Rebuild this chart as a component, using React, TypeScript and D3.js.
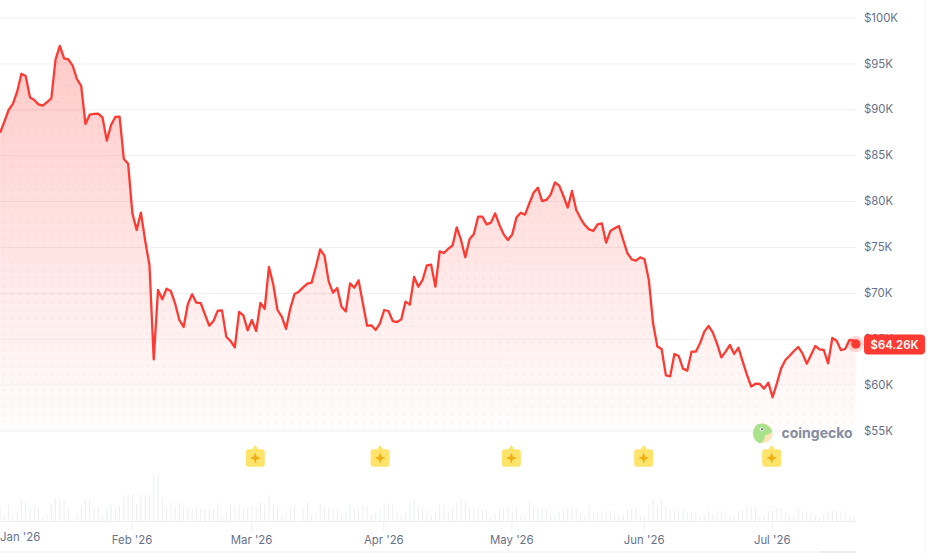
import { useEffect, useRef } from 'react';
import {
  select,
  scaleUtc,
  scaleLinear,
  axisBottom,
  axisRight,
  area,
  line,
  range,
  utcDay,
} from 'd3';

const startDate = new Date(Date.UTC(2026, 0, 1, 5));
const lastDate = new Date(Date.UTC(2026, 6, 20, 17));

// daily price in $K
const pricesQ1 = [
  87.45, 88.65, 89.92, 90.58, 91.92, 93.88, 93.63, 91.3, 91.01, 90.54, 90.39, 90.79, 91.19, 95.44, 96.9,
  95.55, 95.44, 94.75, 93.3, 92.54, 88.4, 89.41, 89.49, 89.52, 89.12, 86.58, 88.29, 89.16, 89.2, 84.58,
  84.07, 78.66, 76.85, 78.74, 75.68, 73.03, 62.75, 70.31, 69.29, 70.45, 70.2, 68.86, 67.04, 66.28, 68.78,
  69.84, 68.93, 68.89, 67.66, 66.42, 66.93, 68.06, 68.09, 65.22, 64.75, 64.06, 67.91, 67.55, 65.92, 67.04,
  65.84, 68.89, 68.27, 72.82, 70.93, 68.13, 67.4, 66.06, 68.31, 69.87, 70.13, 70.6, 71.0,
];
const pricesQ2 = [
  71.11, 72.85, 74.74, 74.05, 71.22, 70.02, 70.52, 68.49, 67.98, 71.03, 70.56, 71.36, 68.86, 66.42, 66.46,
  65.95, 66.68, 68.13, 68.02, 66.93, 66.82, 67.11, 69.04, 68.71, 71.73, 70.67, 71.4, 73.0, 73.07, 70.67,
  74.52, 74.34, 74.81, 75.14, 77.14, 75.76, 73.87, 75.83, 76.41, 78.3, 78.3, 77.46, 77.65, 78.66, 77.39,
  76.37, 75.76, 76.37, 78.23, 78.73, 78.52, 79.75, 80.91, 81.46, 80.0, 80.12, 80.7, 82.04, 81.68, 80.55,
  79.28, 81.1, 79.03, 78.12, 77.39, 76.92, 76.74, 77.46, 77.57, 75.47, 76.74, 77.03, 77.28,
];
const pricesQ3 = [
  75.76, 74.31, 73.65, 73.51, 73.87, 73.65, 71.4, 66.68, 64.14, 63.88, 61.01, 60.9, 63.34, 63.12, 61.74,
  61.52, 63.59, 63.59, 64.5, 65.77, 66.39, 65.66, 64.43, 62.97, 63.59, 64.32, 63.34, 64.03, 62.5, 61.05,
  59.78, 60.1, 60.07, 59.56, 60.21, 58.62, 60.14, 61.77, 62.68, 63.15, 63.66, 64.1, 63.41, 62.28, 63.23,
  64.21, 63.84, 63.77, 62.32, 65.08, 64.79, 63.77, 63.88, 64.86, 64.79,
];
const lastPrice = 64.42;
const lastPriceLabel = '$64.26K';

// relative daily volume
const volumes = [
  43, 22, 50, 23, 28, 62, 58, 46, 50, 43, 12, 20, 50, 70, 68, 62, 38, 0, 22, 43, 62, 65, 40, 42, 16, 40, 50, 40,
  47, 73, 82, 80, 52, 82, 80, 78, 142, 140, 70, 43, 58, 46, 58, 48, 43, 40, 44, 38, 38, 38, 38, 55, 20, 24, 52,
  46, 52, 44, 40, 46, 44, 58, 50, 80, 52, 44, 22, 30, 46, 50, 0, 38, 58,
  22, 25, 52, 45, 42, 38, 35, 20, 28, 52, 38, 34, 50, 46, 22, 27, 36, 52, 54, 52, 28, 18, 26, 52, 65, 46, 42, 34,
  20, 26, 50, 52, 30, 40, 60, 70, 60, 40, 40, 46, 36, 36, 16, 22, 40, 38, 44, 30, 40, 16, 20, 58, 44, 42, 40, 36,
  18, 20, 30, 32, 36, 46, 40, 24, 20, 46, 28, 26, 28, 30, 34, 22, 18,
  20, 36, 38, 42, 18, 14, 50, 66, 44, 66, 46, 34, 32, 36, 34, 28, 28, 26, 16, 20, 34, 22, 32, 30, 24, 14, 16, 30,
  34, 44, 42, 42, 14, 16, 32, 34, 40, 40, 28, 14, 18, 38, 30, 28, 26, 20, 12, 22, 32, 32, 30, 30, 30, 14, 12,
];

const yTicks = [55, 60, 65, 70, 75, 80, 85, 90, 95, 100];
const monthTicks = [1, 2, 3, 4, 5, 6].map((m) => new Date(Date.UTC(2026, m, 1)));
const monthLabels = ["Feb '26", "Mar '26", "Apr '26", "May '26", "Jun '26", "Jul '26"];
const firstMonthLabel = "Jan '26";
const starDates = [
  new Date(Date.UTC(2026, 2, 2)),
  new Date(Date.UTC(2026, 2, 31, 6)),
  new Date(Date.UTC(2026, 4, 1)),
  new Date(Date.UTC(2026, 5, 1)),
  new Date(Date.UTC(2026, 6, 1)),
];

const RED = '#ff3a33';
const GRID = '#eef0f4';
const LABEL = '#677189';
const FONT = 'Inter, "Noto Sans", sans-serif';

interface Point {
  date: Date;
  price: number;
}

export default function App() {
  const svgRef = useRef<SVGSVGElement | null>(null);

  useEffect(() => {
    if (!svgRef.current) return;
    const svg = select(svgRef.current);
    svg.selectAll('*').remove();

    const width = 930;
    const height = 553;
    const plotRight = 856;
    const baseY = 430.5;
    const volBase = 521.5;

    const prices = [...pricesQ1, ...pricesQ2, ...pricesQ3];
    const series: Point[] = prices.map((price, i) => ({ date: utcDay.offset(startDate, i), price }));
    series.push({ date: lastDate, price: lastPrice });

    const x = scaleUtc()
      .domain([monthTicks[0], monthTicks[5]])
      .range([131.5, 771.7]);
    const y = scaleLinear().domain([55, 100]).range([baseY, 17.5]);
    const yVol = scaleLinear().domain([0, 150]).range([volBase, volBase - 50]);

    svg.attr('viewBox', `0 0 ${width} ${height}`);

    const defs = svg.append('defs');
    const grad = defs
      .append('linearGradient')
      .attr('id', 'priceFill')
      .attr('gradientUnits', 'userSpaceOnUse')
      .attr('x1', 0)
      .attr('x2', 0)
      .attr('y1', y(97))
      .attr('y2', baseY);
    grad.append('stop').attr('offset', '0%').attr('stop-color', RED).attr('stop-opacity', 0.27);
    grad.append('stop').attr('offset', '100%').attr('stop-color', RED).attr('stop-opacity', 0.005);

    const pattern = defs
      .append('pattern')
      .attr('id', 'dots')
      .attr('patternUnits', 'userSpaceOnUse')
      .attr('width', 8)
      .attr('height', 8);
    pattern.append('circle').attr('cx', 3).attr('cy', 6).attr('r', 1.6).attr('fill', RED).attr('fill-opacity', 0.05);

    const yAxis = svg
      .append('g')
      .attr('transform', `translate(${plotRight},0)`)
      .call(
        axisRight(y)
          .tickValues(yTicks)
          .tickSize(-plotRight)
          .tickPadding(8)
          .tickFormat((d) => `$${d}K`),
      );
    yAxis.select('.domain').remove();
    yAxis.selectAll('line').style('stroke', GRID);
    yAxis
      .selectAll('text')
      .attr('font-family', FONT)
      .attr('font-size', 11.4)
      .attr('fill', LABEL);

    const areaGen = area<Point>()
      .x((d) => x(d.date))
      .y0(baseY)
      .y1((d) => y(d.price));
    svg.append('path').datum(series).attr('d', areaGen).attr('fill', 'url(#priceFill)');
    svg.append('path').datum(series).attr('d', areaGen).attr('fill', 'url(#dots)');

    const lineGen = line<Point>()
      .x((d) => x(d.date))
      .y((d) => y(d.price));
    svg
      .append('path')
      .datum(series)
      .attr('d', lineGen)
      .attr('fill', 'none')
      .attr('stroke', RED)
      .attr('stroke-width', 2.3)
      .attr('stroke-linejoin', 'round');

    // volume bars
    svg
      .append('g')
      .selectAll('rect')
      .data(volumes)
      .join('rect')
      .attr('x', (_, i) => x(utcDay.offset(startDate, i)) - 0.5)
      .attr('y', (d) => yVol(d))
      .attr('width', 1)
      .attr('height', (d) => volBase - yVol(d))
      .attr('fill', '#eceef3');

    const xAxis = svg
      .append('g')
      .attr('transform', `translate(0,${volBase})`)
      .call(
        axisBottom(x)
          .tickValues(monthTicks)
          .tickSize(9)
          .tickPadding(5)
          .tickFormat((_, i) => monthLabels[i]),
      );
    xAxis.select('.domain').remove();
    xAxis.selectAll('line').style('stroke', GRID);
    xAxis
      .selectAll('text')
      .attr('font-family', FONT)
      .attr('font-size', 11.4)
      .attr('fill', LABEL);
    svg
      .append('line')
      .attr('x1', 0)
      .attr('x2', plotRight)
      .attr('y1', volBase)
      .attr('y2', volBase)
      .attr('stroke', GRID);
    svg
      .append('text')
      .attr('x', 0)
      .attr('y', volBase + 19)
      .attr('font-family', FONT)
      .attr('font-size', 11.4)
      .attr('fill', LABEL)
      .text(firstMonthLabel);

    // star markers
    const stars = svg
      .append('g')
      .selectAll('g')
      .data(starDates)
      .join('g')
      .attr('transform', (d) => `translate(${x(d)},458)`);
    stars
      .append('path')
      .attr('d', 'M-6.5,-8.7 L-3,-8.7 L0,-13 L3,-8.7 L6.5,-8.7 Q9.5,-8.7 9.5,-5.7 L9.5,5.7 Q9.5,8.7 6.5,8.7 L-6.5,8.7 Q-9.5,8.7 -9.5,5.7 L-9.5,-5.7 Q-9.5,-8.7 -6.5,-8.7 Z')
      .attr('fill', '#ffe36b');
    stars
      .append('path')
      .attr('d', 'M0,-5.5 L1.5,-1.5 L5.5,0 L1.5,1.5 L0,5.5 L-1.5,1.5 L-5.5,0 L-1.5,-1.5 Z')
      .attr('fill', '#eeb016');

    // logo
    const logo = svg.append('g').attr('transform', 'translate(762.7,433.3)');
    logo.append('circle').attr('r', 10).attr('fill', '#fbe3b4');
    logo
      .append('path')
      .attr('d', 'M-5,-9 C1,-11 7,-8 9.5,-2 C8,1 3,1 2,3 C2,6 0,9 -3,10 C-8,8 -10,3 -9.5,-1 C-9,-5 -7,-8 -5,-9 Z')
      .attr('fill', '#a8e28a');
    logo.append('circle').attr('cx', -1).attr('cy', -4).attr('r', 2).attr('fill', '#eef2ee');
    logo.append('circle').attr('cx', -0.7).attr('cy', -4).attr('r', 1).attr('fill', '#58636b');
    svg
      .append('text')
      .attr('x', 781.5)
      .attr('y', 437.5)
      .attr('font-family', FONT)
      .attr('font-size', 14)
      .attr('font-weight', 700)
      .attr('fill', '#858da1')
      .text('coingecko');

    // last price
    const lastX = x(lastDate);
    const lastY = y(lastPrice);
    svg.append('circle').attr('cx', lastX).attr('cy', lastY).attr('r', 8).attr('fill', RED).attr('fill-opacity', 0.2);
    svg.append('circle').attr('cx', lastX).attr('cy', lastY).attr('r', 4.7).attr('fill', RED);
    svg
      .append('rect')
      .attr('x', 864)
      .attr('y', lastY - 9.5)
      .attr('width', 61)
      .attr('height', 20)
      .attr('rx', 4)
      .attr('fill', RED);
    svg
      .append('text')
      .attr('x', 894.5)
      .attr('y', lastY + 4.7)
      .attr('text-anchor', 'middle')
      .attr('font-family', FONT)
      .attr('font-size', 11.4)
      .attr('font-weight', 600)
      .attr('fill', '#fff')
      .text(lastPriceLabel);

    // range navigator strip along the bottom and frame edge
    svg.append('rect').attr('x', 0).attr('y', 551).attr('width', plotRight).attr('height', 2).attr('fill', '#f5f6f8');
    svg.append('rect').attr('x', 821).attr('y', 551).attr('width', 35).attr('height', 2).attr('fill', '#ebecef');
    const navX = scaleLinear().domain([0, 5]).range([108, 755]);
    svg
      .append('g')
      .selectAll('line')
      .data(range(6))
      .join('line')
      .attr('x1', (d) => navX(d))
      .attr('x2', (d) => navX(d))
      .attr('y1', 551)
      .attr('y2', 553)
      .attr('stroke', '#ffffff');
    svg.append('line').attr('x1', 925.5).attr('x2', 925.5).attr('y1', 0).attr('y2', height).attr('stroke', '#f3f4f6');
  }, []);

  return (
    <svg
      ref={svgRef}
      width={930}
      height={553}
      style={{ position: 'absolute', left: 0, top: 0, display: 'block', background: '#fff' }}
      role="img"
      aria-label="Price chart"
    />
  );
}
